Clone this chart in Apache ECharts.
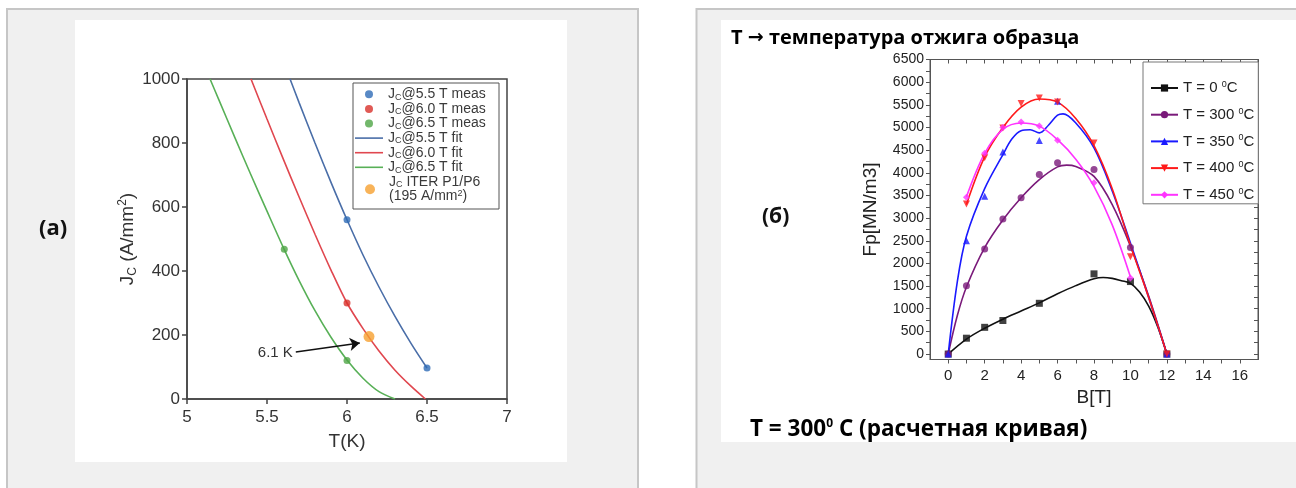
<!DOCTYPE html>
<html>
<head>
<meta charset="utf-8">
<script src="https://cdn.jsdelivr.net/npm/echarts@6/dist/echarts.min.js"></script>
<style>
html,body{margin:0;padding:0;background:#fff}
#c{width:1296px;height:488px}
</style>
</head>
<body>
<div id="c"></div>
<script>
// ---------- (a) critical current density vs temperature ----------
const jcTicksT = [5, 5.5, 6, 6.5, 7];
const jcTicksJ = [0, 200, 400, 600, 800, 1000];

// fitted curves [T(K), Jc(A/mm2)]
const fit55 = [[5.644,1000],[5.7,927],[5.8,800],[5.9,677],[6.0,560],[6.1,450],[6.2,350],[6.3,258],[6.4,174],[6.5,97]];
const fit60 = [[5.40,1000],[5.5,875],[5.6,752],[5.7,632],[5.8,515],[5.9,403],[6.0,300],[6.1,220],[6.2,150],[6.3,90],[6.4,40],[6.49,0]];
const fit65 = [[5.144,1000],[5.2,934],[5.3,816],[5.4,700],[5.5,587],[5.608,467],[5.7,371],[5.8,276],[5.9,193],[6.0,122],[6.1,65],[6.2,23],[6.3,0]];

// measured points
const meas55 = [[6.0,560],[6.5,97]];
const meas60 = [[6.0,300]];
const meas65 = [[5.608,468],[6.0,120]];
const iterPoint = [[6.1375,195]];
// annotation arrow: from label to the ITER point
const arrowFrom = [5.68,147];
const arrowTo = [6.08,175];

// ---------- (б) pinning force vs field ----------
const bTicks = [0,2,4,6,8,10,12,14,16];
const bMinor = [0,1,2,3,4,5,6,7,8,9,10,11,12,13,14,15,16];
const fpTicks = [0,500,1000,1500,2000,2500,3000,3500,4000,4500,5000,5500,6000,6500];
const fpMinor = [0,250,500,750,1000,1250,1500,1750,2000,2250,2500,2750,3000,3250,3500,3750,4000,4250,4500,4750,5000,5250,5500,5750,6000,6250,6500];

const anneal = ['T = 0 °C','T = 300 °C','T = 350 °C','T = 400 °C','T = 450 °C'];

// measured [B(T), Fp(MN/m3)]
const pts0   = [[0,0],[1,350],[2,590],[3,740],[5,1120],[8,1770],[10,1600],[12,0]];
const pts300 = [[0,0],[1,1510],[2,2320],[3,2980],[4,3450],[5,3960],[6,4220],[8,4070],[10,2350],[12,0]];
const pts350 = [[0,0],[1,2500],[2,3480],[3,4460],[5,4710],[6,5580],[12,0]];
const pts400 = [[1,3310],[2,4330],[3,4990],[4,5530],[5,5650],[6,5560],[8,4660],[10,2150],[12,0]];
const pts450 = [[1,3460],[2,4430],[3,5000],[4,5120],[5,5030],[6,4720],[8,3780],[10,1680]];

// fitted curves
const fitC0   = [[0,0],[1,330],[2,570],[3,770],[4,950],[5,1130],[6,1330],[7,1510],[8,1660],[8.5,1690],[9,1670],[9.5,1620],[10,1560],[10.5,1370],[11,1060],[11.5,600],[12,0]];
const fitC300 = [[0,0],[0.5,850],[1,1480],[2,2350],[3,2960],[4,3450],[5,3850],[6,4130],[6.5,4170],[7,4140],[8,3920],[9,3300],[10,2380],[11,1280],[12,0]];
const fitC350 = [[0,0],[0.5,1600],[1,2600],[2,3650],[3,4400],[3.5,4750],[4,4930],[4.5,4950],[5,4880],[5.5,5050],[6,5270],[6.3,5300],[7,5100],[8,4550],[9,3600],[10,2450],[11,1250],[12,0]];
const fitC400 = [[1,3300],[2,4350],[3,5000],[4,5450],[5,5630],[6,5560],[7,5200],[8,4600],[9,3650],[10,2400],[11,1250],[12,0]];
const fitC450 = [[1,3470],[2,4430],[3,4960],[4,5100],[5,5030],[6,4730],[7,4300],[8,3700],[9,2850],[10,1700]];

const fpColors = ['#111111','#7a1a7a','#1a1aff','#ff1a1a','#ff33ff'];
const fpSymbols = ['rect','circle','triangle','path://M0,0 L10,0 L5,9 Z','diamond'];
const fpFits = [fitC0, fitC300, fitC350, fitC400, fitC450];
const fpPts = [pts0, pts300, pts350, pts400, pts450];

const measNames = ['Jc@5.5 T meas','Jc@6.0 T meas','Jc@6.5 T meas'];
const fitNames = ['Jc@5.5 T fit','Jc@6.0 T fit','Jc@6.5 T fit'];
const iterName = 'Jc ITER P1/P6 (195 A/mm2)';

const sans = 'Liberation Sans';
const bold = 'Open Sans';

const subRich = {
  t: {fontSize: 14, lineHeight: 14.6, fontFamily: sans, color: '#3a3a3a'},
  c: {fontSize: 9, lineHeight: 9, verticalAlign: 'bottom', fontFamily: sans, color: '#3a3a3a'},
  p: {fontSize: 9, lineHeight: 9, verticalAlign: 'top', fontFamily: sans, color: '#3a3a3a'}
};

function jcLegend(name) {
  if (name.indexOf('ITER') >= 0) {
    return '{t|J}{c|C}{t| ITER P1/P6}\n{t|(195 A/mm}{p|2}{t|)}';
  }
  return '{t|J}{c|C}{t|' + name.slice(2) + '}';
}
function fpLegend(name) {
  const n = name.match(/T = (\d+)/)[1];
  return '{t|T = ' + n + ' }{p|0}{t|C}';
}
function plain(v) { return String(v); }

const series = [];
// (a) fits
[[fit55,'#4a6ea8',0],[fit60,'#e0474f',1],[fit65,'#58b057',2]].forEach(function (f) {
  series.push({
    type: 'line', name: fitNames[f[2]], xAxisIndex: 0, yAxisIndex: 0,
    data: f[0], symbol: 'none', smooth: 0.3, color: f[1],
    lineStyle: {width: 1.6, color: f[1]}, z: 2
  });
});
// (a) measurements
[[meas55,'#2e6cb6',0],[meas60,'#d8312b',1],[meas65,'#4fa546',2]].forEach(function (m) {
  series.push({
    type: 'scatter', name: measNames[m[2]], xAxisIndex: 0, yAxisIndex: 0,
    data: m[0], symbol: 'circle', symbolSize: 7, color: m[1], z: 3
  });
});
series.push({
  type: 'scatter', name: iterName, xAxisIndex: 0, yAxisIndex: 0,
  data: iterPoint, symbol: 'circle', symbolSize: 11, color: '#f6a02f', z: 4,
  markLine: {
    silent: true, symbol: ['none','arrow'], symbolSize: 10,
    lineStyle: {color: '#111', width: 1.6, type: 'solid'},
    label: {show: true, position: 'start', formatter: '6.1 K', fontFamily: sans, fontSize: 15, color: '#333', distance: 3},
    data: [[{coord: arrowFrom}, {coord: arrowTo}]]
  }
});
// (б) fits and measurements
for (let i = 0; i < anneal.length; i++) {
  series.push({
    type: 'line', name: anneal[i], xAxisIndex: 1, yAxisIndex: 1,
    data: fpFits[i], symbol: fpSymbols[i], showSymbol: false, symbolSize: 7,
    smooth: 0.35, color: fpColors[i], lineStyle: {width: 1.6, color: fpColors[i]}, z: 2
  });
  series.push({
    type: 'scatter', name: anneal[i], xAxisIndex: 1, yAxisIndex: 1,
    data: fpPts[i], symbol: fpSymbols[i], symbolSize: 7, color: fpColors[i], z: 3 + i
  });
}

const axisText = {fontFamily: sans, color: '#333', formatter: plain};

const jcLegendBase = {
  orient: 'vertical', padding: 0, itemGap: 0, itemWidth: 28, z: 5,
  selectedMode: false, formatter: jcLegend,
  textStyle: {fontFamily: sans, fontSize: 14, lineHeight: 14.6, color: '#3a3a3a', rich: subRich}
};

const option = {
  animation: false,
  backgroundColor: '#ffffff',
  graphic: [
    {type: 'rect', z: -10, shape: {x: 7, y: 9, width: 631, height: 500}, style: {fill: '#f0f0f0', stroke: '#c6c6c6', lineWidth: 2}},
    {type: 'rect', z: -10, shape: {x: 696.5, y: 9, width: 700, height: 500}, style: {fill: '#f0f0f0', stroke: '#c6c6c6', lineWidth: 2}},
    {type: 'rect', z: -9, shape: {x: 75, y: 20, width: 492, height: 442}, style: {fill: '#ffffff'}},
    {type: 'rect', z: -9, shape: {x: 721, y: 20, width: 600, height: 422}, style: {fill: '#ffffff'}},
    {type: 'rect', z: 1, shape: {x: 353, y: 83, width: 146, height: 126}, style: {fill: '#ffffff', stroke: '#555', lineWidth: 1}},
    {type: 'text', z: 10, x: 39, y: 229, style: {text: '(a)', font: 'bold 22px "Open Sans"', fill: '#111', textVerticalAlign: 'middle'}},
    {type: 'text', z: 10, x: 762, y: 217, style: {text: '(б)', font: 'bold 21px "Open Sans"', fill: '#111', textVerticalAlign: 'middle'}},
    {type: 'text', z: 10, x: 731, y: 38, style: {
      text: '{a|T }{r|→}{a| температура отжига образца}',
      textVerticalAlign: 'middle',
      rich: {
        a: {fontFamily: bold, fontWeight: 'bold', fontSize: 20, lineHeight: 22, color: '#111'},
        r: {fontFamily: 'DejaVu Sans', fontWeight: 'bold', fontSize: 19, lineHeight: 22, color: '#111'}
      }
    }},
    {type: 'text', z: 10, x: 750, y: 430, style: {
      text: '{a|T = 300}{s|0}{a| С (расчетная кривая)}',
      textVerticalAlign: 'middle',
      rich: {
        a: {fontFamily: bold, fontWeight: 'bold', fontSize: 22.5, lineHeight: 24, color: '#111'},
        s: {fontFamily: bold, fontWeight: 'bold', fontSize: 12, lineHeight: 12, verticalAlign: 'top', color: '#111'}
      }
    }}
  ],
  grid: [
    {left: 187, top: 79, width: 320, height: 320, show: true, borderColor: '#444', borderWidth: 1.5, backgroundColor: 'transparent'},
    {left: 930, top: 59.5, width: 328, height: 300, show: true, borderColor: '#555', borderWidth: 1, backgroundColor: 'transparent'}
  ],
  xAxis: [
    {type: 'value', gridIndex: 0, min: 5, max: 7, interval: 0.5,
     name: 'T(K)', nameLocation: 'middle', nameGap: 33,
     nameTextStyle: {fontFamily: sans, fontSize: 19, color: '#333'},
     axisLine: {show: true, lineStyle: {color: '#444', width: 1.5}},
     axisTick: {show: true, inside: false, length: 5, lineStyle: {color: '#444', width: 1.5}},
     axisLabel: Object.assign({fontSize: 17, margin: 10, customValues: jcTicksT}, axisText),
     splitLine: {show: false}},
    {type: 'value', gridIndex: 1, min: -1, max: 17,
     name: 'B[T]', nameLocation: 'middle', nameGap: 29,
     nameTextStyle: {fontFamily: sans, fontSize: 19, color: '#222'},
     axisLine: {show: true, onZero: false, lineStyle: {color: '#555', width: 1}},
     axisTick: {show: true, inside: false, length: 4, customValues: bMinor, lineStyle: {color: '#555'}},
     axisLabel: Object.assign({fontSize: 15, margin: 9, customValues: bTicks}, axisText, {color: '#222'}),
     splitLine: {show: false}},
    {type: 'value', gridIndex: 1, min: -1, max: 17, position: 'top',
     axisLine: {show: true, onZero: false, lineStyle: {color: '#555', width: 1}},
     axisTick: {show: true, inside: true, length: 4, customValues: bMinor, lineStyle: {color: '#555'}},
     axisLabel: {show: false}, splitLine: {show: false}}
  ],
  yAxis: [
    {type: 'value', gridIndex: 0, min: 0, max: 1000, interval: 200,
     name: '{t|J}{c|C}{t| (A/mm}{p|2}{t|)}', nameLocation: 'middle', nameGap: 45, nameRotate: 90,
     nameTextStyle: {rich: {
       t: {fontFamily: sans, fontSize: 19, color: '#333', lineHeight: 22},
       c: {fontFamily: sans, fontSize: 12, color: '#333', lineHeight: 12, verticalAlign: 'bottom'},
       p: {fontFamily: sans, fontSize: 12, color: '#333', lineHeight: 12, verticalAlign: 'top'}
     }},
     axisLine: {show: true, lineStyle: {color: '#444', width: 1.5}},
     axisTick: {show: true, inside: false, length: 5, lineStyle: {color: '#444', width: 1.5}},
     axisLabel: Object.assign({fontSize: 17, margin: 7, customValues: jcTicksJ}, axisText),
     splitLine: {show: false}},
    {type: 'value', gridIndex: 1, min: -120, max: 6500,
     name: 'Fp[MN/m3]', nameLocation: 'middle', nameGap: 50, nameRotate: 90,
     nameTextStyle: {fontFamily: sans, fontSize: 19, color: '#222'},
     axisLine: {show: true, onZero: false, lineStyle: {color: '#555', width: 1}},
     axisTick: {show: true, inside: false, length: 4, customValues: fpMinor, lineStyle: {color: '#555'}},
     axisLabel: Object.assign({fontSize: 14, margin: 6, customValues: fpTicks}, axisText, {color: '#222'}),
     splitLine: {show: false}},
    {type: 'value', gridIndex: 1, min: -120, max: 6500, position: 'right',
     axisLine: {show: true, onZero: false, lineStyle: {color: '#555', width: 1}},
     axisTick: {show: true, inside: true, length: 4, customValues: fpMinor, lineStyle: {color: '#555'}},
     axisLabel: {show: false}, splitLine: {show: false}}
  ],
  legend: [
    Object.assign({}, jcLegendBase, {left: 365, top: 87, itemHeight: 8, icon: 'circle', data: measNames}),
    Object.assign({}, jcLegendBase, {left: 355, top: 130.8, itemHeight: 1.6, icon: 'rect', data: fitNames}),
    Object.assign({}, jcLegendBase, {left: 365, top: 174.6, itemHeight: 10, icon: 'circle', data: [iterName]}),
    {orient: 'vertical', left: 1143, top: 62, padding: [18, 4, 1, 7], itemGap: 10.7,
     itemWidth: 27, itemHeight: 9, z: 5,
     borderColor: '#777', borderWidth: 1, backgroundColor: '#fff',
     data: anneal, formatter: fpLegend, selectedMode: false,
     textStyle: {fontFamily: sans, fontSize: 15, lineHeight: 16, color: '#222', rich: {
       t: {fontFamily: sans, fontSize: 15, lineHeight: 16, color: '#222'},
       p: {fontFamily: sans, fontSize: 9, lineHeight: 9, verticalAlign: 'top', color: '#222'}
     }}}
  ],
  series: series
};

const chart = echarts.init(document.getElementById('c'), null, {renderer: 'canvas'});
chart.setOption(option);
</script>
</body>
</html>
